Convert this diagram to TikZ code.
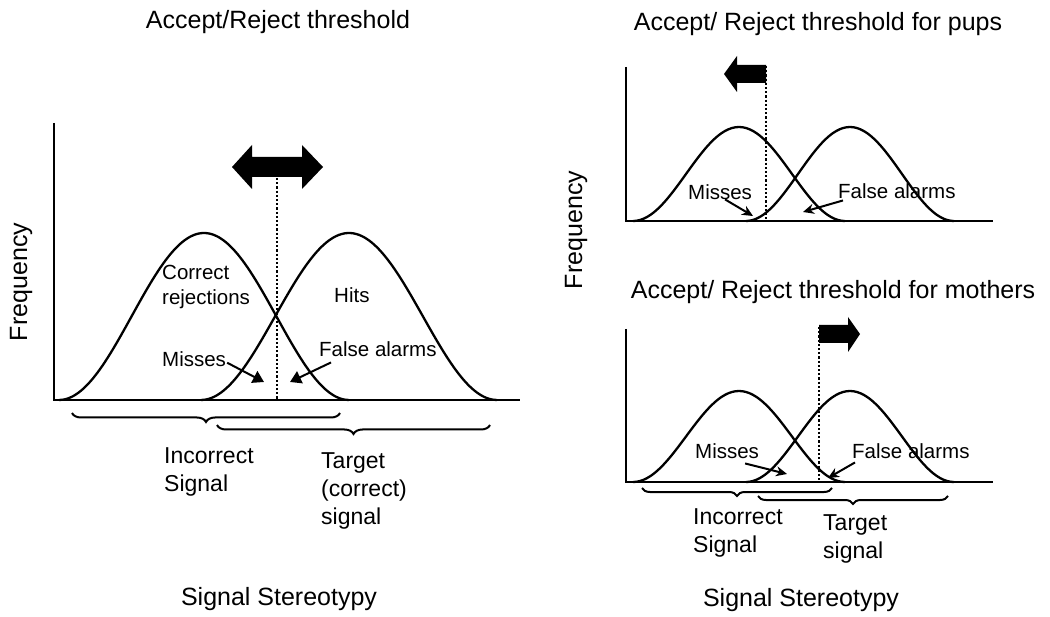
\documentclass[tikz,border=0pt]{standalone}
\usepackage{fontspec}
\setmainfont{Liberation Sans}
\usetikzlibrary{arrows.meta, decorations.pathreplacing, calc}
\tikzset{
	axis/.style={line width=2.6pt},
	bellcurve/.style={line width=2.3pt, smooth},
	threshold/.style={line width=2.4pt, dash pattern=on 2.2pt off 2pt},
	blockarrow/.style={fill=black, draw=none},
	pointer/.style={-{Triangle[length=11pt, width=13pt]}, line width=2pt},
	spointer/.style={-{Stealth[length=11pt, width=10pt]}, line width=2pt},
	underbrace/.style={decorate, decoration={brace, mirror, amplitude=#1}, line width=2pt},
	title/.style={anchor=north, inner sep=0pt, font=\fontsize{25}{30}\selectfont},
	axlabel/.style={rotate=90, inner sep=0pt, font=\fontsize{25}{30}\selectfont},
	region/.style={anchor=north west, inner sep=0pt, align=left, font=\fontsize{20.5}{25}\selectfont},
	group/.style={anchor=north west, inner sep=0pt, align=left, font=\fontsize{23}{28}\selectfont},
}
% bell: centre, half width, baseline, height
\newcommand{\bell}[4]{%
	\pgfmathsetmacro\bellfrom{#1-#2}\pgfmathsetmacro\bellto{#1+#2}%
	\draw[bellcurve] plot[domain=\bellfrom:\bellto, samples=61] (\x, {#3-#4*(1+cos(180/#2*(\x-#1)))/2});}
\begin{document}
\begin{tikzpicture}[x=1pt, y=-1pt]
	\useasboundingbox (0,0) rectangle (1050,617);
	% left panel
	\node[title] (titleL) at (278,10) {Accept/Reject threshold};
	\node[axlabel] (freqL) at (21,282) {Frequency};
	\draw[axis] (54,123) -- (54,400) -- (520,400);
	\bell{204}{145}{400}{167}
	\bell{349}{148}{400}{167}
	\draw[threshold] (277,178) -- (277,400);
	\fill[blockarrow] (232,167) -- (252,145) -- (252,157) -- (302,157) -- (302,145) -- (323,167)
		-- (302,189) -- (302,177) -- (252,177) -- (252,189) -- cycle;
	\node[region] (corrL) at (162,265) {Correct\\rejections};
	\node[region] (hitsL) at (334,287) {Hits};
	\node[region] (missL) at (162,351) {Misses};
	\node[region] (faL) at (319,341) {False alarms};
	\coordinate (missLtip) at (264,382);
	\coordinate (faLtip) at (290,382);
	\draw[pointer] ($(missL.east)+(1,4)$) -- (missLtip);
	\draw[pointer] ($(faL.south west)+(12,6)$) -- (faLtip);
	\draw[underbrace=9pt] (72,413) -- (340,413);
	\draw[underbrace=9pt] (217,425) -- (490,425);
	\node[group] (incL) at (164,447) {Incorrect\\Signal};
	\node[group] (tgtL) at (321,452) {Target\\(correct)\\signal};
	\node[title] (xlabL) at (279,587) {Signal Stereotypy};
	% right panels
	\node[axlabel] (freqR) at (576,230) {Frequency};
	% pups
	\node[title] (titleP) at (818,12) {Accept/ Reject threshold for pups};
	\draw[axis] (626,67) -- (626,221) -- (993,221);
	\bell{739}{106}{221}{94}
	\bell{850}{104}{221}{94}
	\draw[threshold] (766,66) -- (766,221);
	\fill[blockarrow] (724,74) -- (737,56) -- (737,65) -- (766,65) -- (766,83) -- (737,83) -- (737,92) -- cycle;
	\node[region] (missP) at (688,184) {Misses};
	\node[region] (faP) at (838,183) {False alarms};
	\coordinate (missPtip) at (753,216);
	\coordinate (faPtip) at (803,212);
	\draw[spointer] ($(missP.south)+(5,0)$) -- (missPtip);
	\draw[spointer] ($(faP.south west)+(5,2)$) -- (faPtip);
	% mothers
	\node[title] (titleM) at (833,280) {Accept/ Reject threshold for mothers};
	\draw[axis] (626,329) -- (626,482) -- (993,482);
	\bell{739}{106}{482}{91}
	\bell{850}{104}{482}{91}
	\draw[threshold] (819,327) -- (819,482);
	\fill[blockarrow] (819,325) -- (848,325) -- (848,317) -- (860,334) -- (848,352) -- (848,343) -- (819,343) -- cycle;
	\node[region] (missM) at (695,443) {Misses};
	\node[region] (faM) at (852,443) {False alarms};
	\coordinate (missMtip) at (787,474);
	\coordinate (faMtip) at (828,478);
	\draw[spointer] ($(missM.south)+(18,5)$) -- (missMtip);
	\draw[spointer] ($(faM.south west)+(3,4)$) -- (faMtip);
	\draw[underbrace=8pt] (642,488) -- (832,488);
	\draw[underbrace=8pt] (758,496) -- (948,496);
	\node[group] (incM) at (693,508) {Incorrect\\Signal};
	\node[group] (tgtM) at (823,514) {Target\\signal};
	\node[title] (xlabM) at (801,588) {Signal Stereotypy};
\end{tikzpicture}
\end{document}
